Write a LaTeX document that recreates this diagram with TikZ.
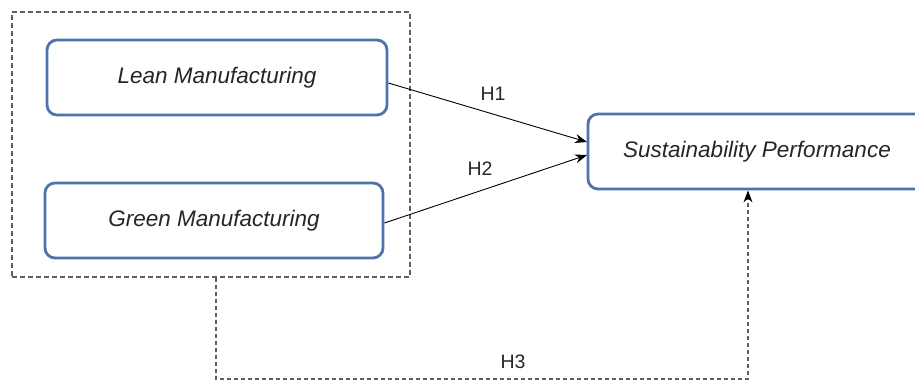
\documentclass[tikz,border=0pt]{standalone}
\usepackage{fontspec}
\setmainfont{Liberation Sans}
\usetikzlibrary{arrows.meta}
\definecolor{boxblue}{RGB}{78,114,172}
\definecolor{dashgray}{RGB}{95,95,95}
\tikzset{
  varbox/.style={draw=boxblue, line width=2.8pt, rounded corners=10pt, fill=white,
    font=\fontsize{22.5}{26}\selectfont\itshape, text=black!85, inner sep=0pt},
  grpbox/.style={draw=dashgray, line width=1.3pt, dash pattern=on 5pt off 3pt, inner sep=0pt},
  hyp/.style={draw=black, line width=0.9pt, -{Stealth[length=12pt,width=9pt]}},
  hypdash/.style={draw=dashgray, line width=1.2pt, dash pattern=on 4pt off 3pt, -{Stealth[length=12pt,width=9pt,color=black]}},
  hlabel/.style={font=\fontsize{19.5}{22}\selectfont, text=black!85}
}
\begin{document}
\begin{tikzpicture}[x=1pt,y=-1pt]
\useasboundingbox (0,0) rectangle (915,383);
\node[grpbox, minimum width=398pt, minimum height=265pt] (grp) at (211,144.5) {};
\node[varbox, minimum width=340pt, minimum height=75pt] (lean) at (217,77.5) {Lean Manufacturing};
\node[varbox, minimum width=338pt, minimum height=75pt] (green) at (214,220.5) {Green Manufacturing};
\node[varbox, minimum width=338pt, minimum height=75pt] (sus) at (757,151.5) {Sustainability Performance};
\coordinate (s1) at (587,142);
\coordinate (s2) at (587,155);
\draw[hyp] (lean.east |- 0,83) -- (s1);
\draw[hyp] (green.east |- 0,223) -- (s2);
\node[hlabel] (h1) at (493,94) {H1};
\node[hlabel] (h2) at (480,169) {H2};
\coordinate (c1) at (216,379);
\coordinate (c2) at (748,379);
\draw[hypdash] (grp.south -| c1) -- (c1) -- (c2) -- (sus.south -| c2);
\node[hlabel] (h3) at (513,362) {H3};
\end{tikzpicture}
\end{document}
